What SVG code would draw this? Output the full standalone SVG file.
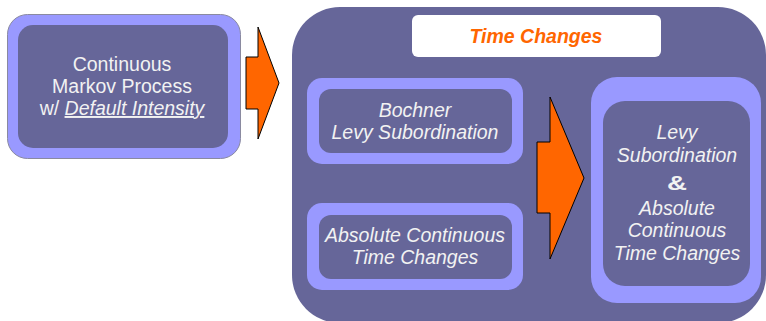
<svg xmlns="http://www.w3.org/2000/svg" width="766" height="321" viewBox="0 0 766 321">
<style>
.outer{fill:#9999ff;}
.inner{fill:#666699;}
.t{font-family:"Liberation Sans",Arial,sans-serif;font-size:19.5px;fill:#f2f2f2;text-anchor:middle;}
.i{font-style:italic;}
.arrow{fill:#ff6600;stroke:#000;stroke-width:1;stroke-linejoin:miter;}
</style>
<rect width="766" height="321" fill="#ffffff"/>
<g id="markov">
<rect class="outer" x="7.5" y="14.5" width="233" height="144" rx="20" stroke="#8a8aa0" stroke-width="1"/>
<rect class="inner" x="18" y="25" width="210" height="123" rx="15"/>
<text class="t" x="122" y="71">Continuous</text>
<text class="t" x="122" y="93">Markov Process</text>
<text class="t" x="122" y="115">w/ <tspan class="i" text-decoration="underline">Default Intensity</tspan></text>
</g>
<g id="timechanges">
<rect x="292" y="7" width="474" height="316" rx="48" fill="#666699"/>
<rect x="412" y="15" width="249" height="42" rx="6" fill="#ffffff"/>
<text x="536" y="43" font-family="Liberation Sans,Arial,sans-serif" font-size="19.5" font-weight="bold" font-style="italic" fill="#ff6600" text-anchor="middle">Time Changes</text>
</g>
<g id="bochner">
<rect class="outer" x="307" y="78" width="216" height="86" rx="15"/>
<rect class="inner" x="319" y="89" width="193" height="64" rx="12"/>
<text class="t i" x="415" y="117">Bochner</text>
<text class="t i" x="415" y="139">Levy Subordination</text>
</g>
<g id="absolute">
<rect class="outer" x="307" y="203" width="216" height="87" rx="15"/>
<rect class="inner" x="319" y="215" width="193" height="64" rx="12"/>
<text class="t i" x="415" y="242">Absolute Continuous</text>
<text class="t i" x="415" y="264">Time Changes</text>
</g>
<g id="combined">
<rect class="outer" x="591" y="77" width="170" height="226" rx="26"/>
<rect class="inner" x="603" y="101" width="147" height="185" rx="22"/>
<text class="t i" x="677" y="139">Levy</text>
<text class="t i" x="677" y="162">Subordination</text>
<text class="t" x="677" y="190" font-weight="bold" font-size="19" textLength="20" lengthAdjust="spacingAndGlyphs">&amp;</text>
<text class="t i" x="677" y="215">Absolute</text>
<text class="t i" x="677" y="237">Continuous</text>
<text class="t i" x="677" y="260">Time Changes</text>
</g>
<g id="connectors">
<polygon class="arrow" points="246,57 258,57 258,27 279,83 258,139 258,109 246,109"/>
<polygon class="arrow" points="537,142 550,142 550,97 584,178 550,259 550,213 537,213"/>
</g>
</svg>
